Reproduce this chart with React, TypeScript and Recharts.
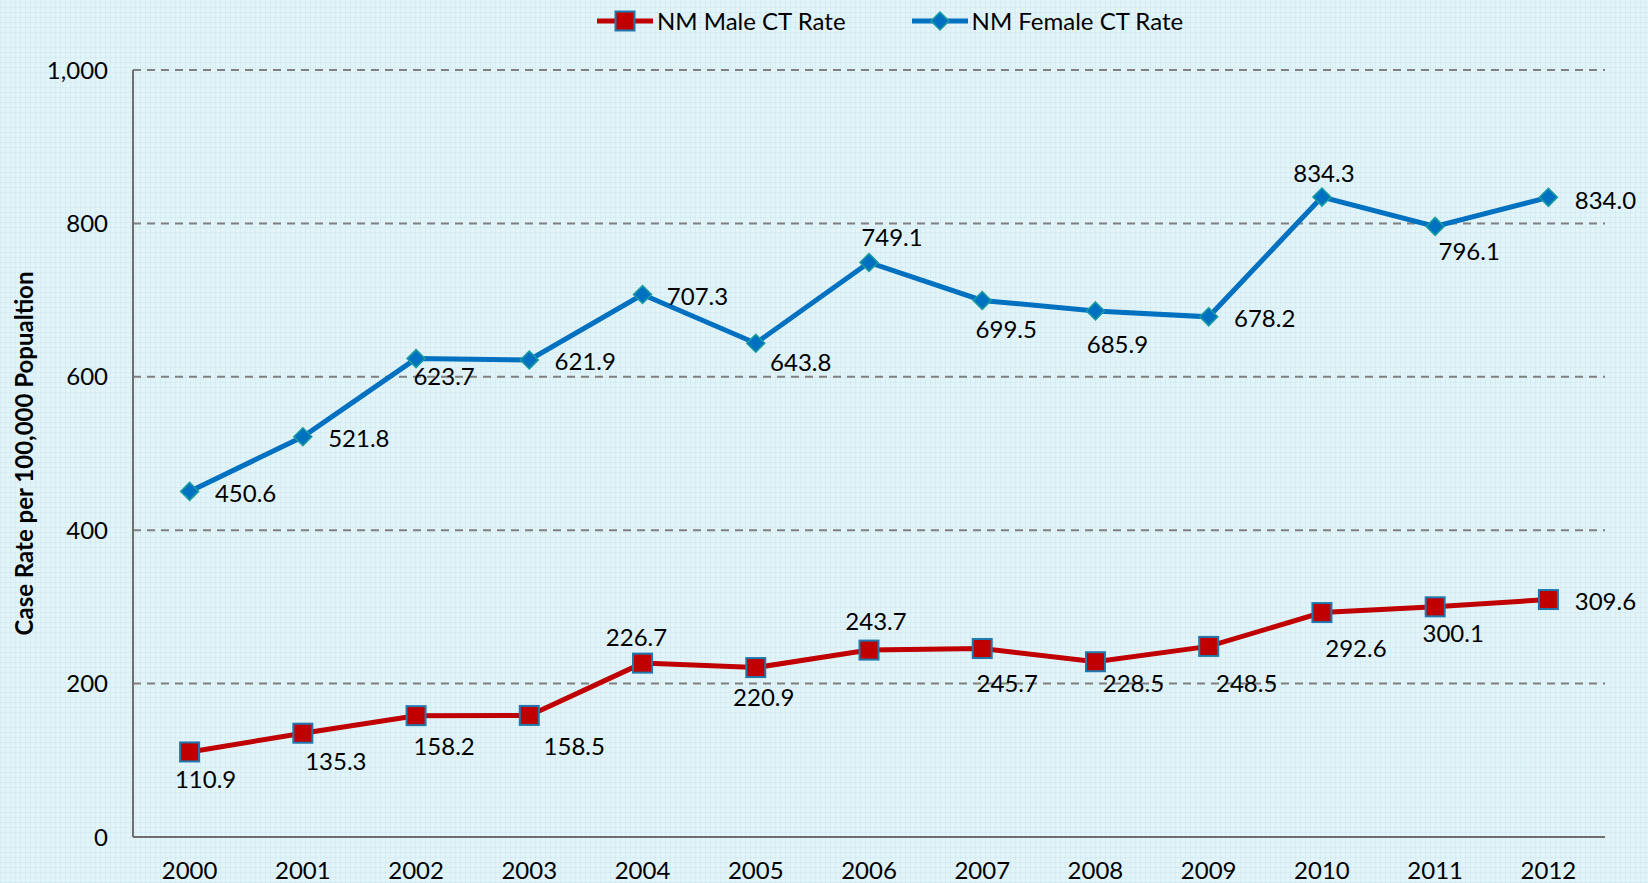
import { LineChart, Line, XAxis, YAxis, CartesianGrid, Label } from "recharts";

const YEARS = ["2000", "2001", "2002", "2003", "2004", "2005", "2006", "2007", "2008", "2009", "2010", "2011", "2012"];
const MALE_RATES = [110.9, 135.3, 158.2, 158.5, 226.7, 220.9, 243.7, 245.7, 228.5, 248.5, 292.6, 300.1, 309.6];
const FEMALE_RATES = [450.6, 521.8, 623.7, 621.9, 707.3, 643.8, 749.1, 699.5, 685.9, 678.2, 834.3, 796.1, 834.0];
const Y_TICKS = [0, 200, 400, 600, 800, 1000];

// label offsets (dx, dy) from each point, as placed in the original
const MALE_LABEL_OFFSETS = [
  [16, 27], [33, 27], [28, 30], [45, 30], [-6, -27], [8, 29], [7, -30],
  [25, 34], [38, 21], [38, 36], [34, 35], [18, 26], [57, 1],
];
const FEMALE_LABEL_OFFSETS = [
  [56, 1], [56, 1], [28, 17], [56, 0], [55, 1], [45, 18], [23, -26],
  [24, 28], [22, 33], [56, 1], [2, -25], [34, 24], [57, 2],
];

const FONT = "Lato, 'Open Sans', sans-serif";
const MALE_COLOR = "#C00000";
const FEMALE_COLOR = "#0070C0";

const data = YEARS.map((year, i) => ({
  year,
  male: MALE_RATES[i],
  female: FEMALE_RATES[i],
}));

function ValueText({ x, y, value }: { x: number; y: number; value: number }) {
  return (
    <text x={x} y={y} textAnchor="middle" dominantBaseline="central" fontSize={24} fontFamily={FONT} fill="#000">
      {value.toFixed(1)}
    </text>
  );
}

function maleDot(props: any) {
  const { cx, cy, index, payload } = props;
  const [dx, dy] = MALE_LABEL_OFFSETS[index];
  return (
    <g key={`m-${index}`}>
      <rect x={cx - 9.5} y={cy - 9.5} width={19} height={19} fill={MALE_COLOR} stroke="#1F78AE" strokeWidth={2} />
      <ValueText x={cx + dx} y={cy + dy} value={payload.male} />
    </g>
  );
}

function femaleDot(props: any) {
  const { cx, cy, index, payload } = props;
  const [dx, dy] = FEMALE_LABEL_OFFSETS[index];
  const r = 9;
  return (
    <g key={`f-${index}`}>
      <polygon
        points={`${cx},${cy - r} ${cx + r},${cy} ${cx},${cy + r} ${cx - r},${cy}`}
        fill={FEMALE_COLOR}
        stroke="#1A9E9E"
        strokeWidth={1.5}
      />
      <ValueText x={cx + dx} y={cy + dy} value={payload.female} />
    </g>
  );
}

function LegendItem({ label, kind }: { label: string; kind: "male" | "female" }) {
  const color = kind === "male" ? MALE_COLOR : FEMALE_COLOR;
  return (
    <div style={{ display: "flex", alignItems: "center" }}>
      <svg width={56} height={24}>
        <line x1={0} y1={12} x2={56} y2={12} stroke={color} strokeWidth={5} />
        {kind === "male" ? (
          <rect x={18.5} y={2.5} width={19} height={19} fill={MALE_COLOR} stroke="#1F78AE" strokeWidth={2} />
        ) : (
          <polygon points="28,3 37,12 28,21 19,12" fill={FEMALE_COLOR} stroke="#1A9E9E" strokeWidth={1.5} />
        )}
      </svg>
      <span style={{ marginLeft: 4, fontSize: 24, fontFamily: FONT, color: "#000" }}>{label}</span>
    </div>
  );
}

export default function App() {
  return (
    <div
      style={{
        position: "absolute",
        left: 0,
        top: 0,
        width: 1648,
        height: 883,
        backgroundColor: "#E3F4F9",
        backgroundImage:
          "repeating-linear-gradient(0deg, rgba(190,225,238,0.35) 0px, rgba(190,225,238,0.35) 1px, transparent 1px, transparent 5px), repeating-linear-gradient(90deg, rgba(190,225,238,0.35) 0px, rgba(190,225,238,0.35) 1px, transparent 1px, transparent 5px)",
      }}
    >
      <div style={{ position: "absolute", top: 6, left: 597, display: "flex", gap: 66 }}>
        <LegendItem label="NM Male CT Rate" kind="male" />
        <LegendItem label="NM Female CT Rate" kind="female" />
      </div>
      <LineChart width={1648} height={883} data={data} margin={{ top: 70, right: 43, bottom: 0, left: 0 }}>
        <CartesianGrid vertical={false} strokeDasharray="8 6" stroke="#808080" strokeWidth={2} />
        <XAxis
          dataKey="year"
          height={46}
          padding={{ left: 56.6, right: 56.6 }}
          axisLine={{ stroke: "#6E6E6E", strokeWidth: 2 }}
          tickLine={false}
          tickSize={0}
          tickMargin={25}
          tick={{ fill: "#000", fontSize: 24, fontFamily: FONT }}
          interval={0}
        />
        <YAxis
          width={133}
          domain={[0, 1000]}
          ticks={Y_TICKS}
          tickFormatter={(v: number) => v.toLocaleString("en-US")}
          axisLine={{ stroke: "#6E6E6E", strokeWidth: 2 }}
          tickLine={false}
          tickSize={0}
          tickMargin={25}
          tick={{ fill: "#000", fontSize: 24, fontFamily: FONT }}
        >
          <Label
            content={(p: any) => {
              const vb = p.viewBox;
              const cx = vb.x + 23;
              const cy = vb.y + vb.height / 2;
              return (
                <text
                  x={cx}
                  y={cy}
                  transform={`rotate(-90 ${cx} ${cy})`}
                  textAnchor="middle"
                  dominantBaseline="central"
                  fontWeight="bold"
                  fontSize={24}
                  fontFamily={FONT}
                  fill="#000"
                >
                  Case Rate per 100,000 Popualtion
                </text>
              );
            }}
          />
        </YAxis>
        <Line
          type="linear"
          dataKey="male"
          stroke={MALE_COLOR}
          strokeWidth={5}
          dot={maleDot}
          activeDot={false}
          isAnimationActive={false}
        />
        <Line
          type="linear"
          dataKey="female"
          stroke={FEMALE_COLOR}
          strokeWidth={5}
          dot={femaleDot}
          activeDot={false}
          isAnimationActive={false}
        />
      </LineChart>
    </div>
  );
}
